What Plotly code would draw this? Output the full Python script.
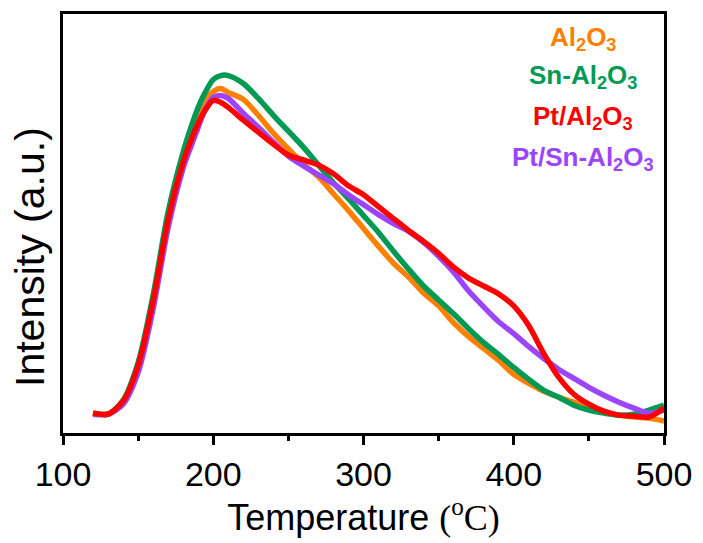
import plotly.graph_objects as go

temperature = [120, 130, 140, 150, 160, 170, 180, 185, 190, 195, 200, 205, 210,
               220, 230, 240, 250, 260, 270, 280, 290, 300, 310, 320, 330, 340,
               350, 360, 370, 380, 390, 400, 410, 420, 430, 440, 450, 460, 470,
               480, 490, 500]

al2o3 = [20, 19, 32, 68, 134, 217, 277, 299, 320, 336, 344, 347, 343,
         336, 320, 302, 286, 271, 258, 241, 224, 206, 188, 171, 157, 141,
         128, 111, 97, 85, 73, 59, 50, 42, 36, 31, 26, 21, 18, 16, 15, 12]

sn_al2o3 = [20, 19, 33, 71, 139, 223, 283, 307, 328, 344, 356, 360, 360,
            352, 337, 320, 304, 288, 270, 252, 236, 219, 202, 183, 165, 148,
            134, 120, 105, 91, 79, 66, 54, 43, 36, 28, 23, 20, 18, 19, 23, 28]

pt_al2o3 = [20, 19, 32, 68, 133, 215, 273, 294, 312, 326, 335, 333, 328,
            315, 303, 291, 280, 275, 270, 261, 249, 240, 228, 216, 204, 193,
            181, 167, 156, 148, 140, 128, 108, 80, 56, 39, 29, 22, 18, 17, 16, 25]

pt_sn_al2o3 = [19, 19, 29, 61, 125, 207, 267, 288, 308, 327, 338, 340, 337,
               322, 308, 293, 279, 269, 260, 251, 240, 230, 220, 211, 203, 192,
               178, 162, 143, 127, 112, 100, 87, 75, 64, 55, 46, 38, 31, 25, 20, 23]

series_names = ["Al<sub>2</sub>O<sub>3</sub>",
                "Sn-Al<sub>2</sub>O<sub>3</sub>",
                "Pt/Al<sub>2</sub>O<sub>3</sub>",
                "Pt/Sn-Al<sub>2</sub>O<sub>3</sub>"]
series_colors = ["#FF8000", "#009A55", "#FF0000", "#9B45FF"]
series_values = [al2o3, sn_al2o3, pt_al2o3, pt_sn_al2o3]
draw_order = [0, 1, 3, 2]

x_ticks = [100, 200, 300, 400, 500]

fig = go.Figure()
for i in draw_order:
    fig.add_trace(go.Scatter(
        x=temperature, y=series_values[i], mode="lines",
        line=dict(color=series_colors[i], width=5.5, shape="spline", smoothing=0.8),
        showlegend=False, hoverinfo="skip"))

label_y = [0.941, 0.851, 0.754, 0.656]
for name, col, yy in zip(series_names, series_colors, label_y):
    fig.add_annotation(text="<b>" + name + "</b>", xref="paper", yref="paper",
                       x=0.866, y=yy, xanchor="center", yanchor="middle",
                       showarrow=False,
                       font=dict(family="Liberation Sans, Arial", size=26, color=col))

fig.add_annotation(text="Intensity (a.u.)", xref="paper", yref="paper",
                   x=-0.055, y=0.42, xanchor="center", yanchor="middle",
                   textangle=-90, showarrow=False,
                   font=dict(family="Liberation Sans, Arial", size=41, color="#000000"))

fig.update_layout(
    width=703, height=543,
    margin=dict(l=63, r=36, t=11, b=110),
    paper_bgcolor="white", plot_bgcolor="white",
    font=dict(family="Liberation Sans, Arial", color="#000000"),
    xaxis=dict(range=[100, 500], tickvals=x_ticks, ticktext=[str(t) for t in x_ticks],
               ticks="outside", ticklen=9, tickwidth=2.5, tickcolor="#000000",
               minor=dict(dtick=50, tick0=100, ticks="outside", ticklen=5, tickwidth=2.5,
                          tickcolor="#000000", showgrid=False),
               showline=True, linewidth=2.5, linecolor="#000000", mirror=True,
               showgrid=False, zeroline=False,
               tickfont=dict(size=34, family="Liberation Sans, Arial"),
               title=dict(text="Temperature <span style='font-family:Liberation Serif'>(<sup>o</sup>C)</span>",
                          font=dict(size=36, family="Liberation Sans, Arial"), standoff=14)),
    yaxis=dict(range=[0, 422], showticklabels=False, ticks="",
               showline=True, linewidth=2.5, linecolor="#000000", mirror=True,
               showgrid=False, zeroline=False),
)

fig.write_html("out.html")
